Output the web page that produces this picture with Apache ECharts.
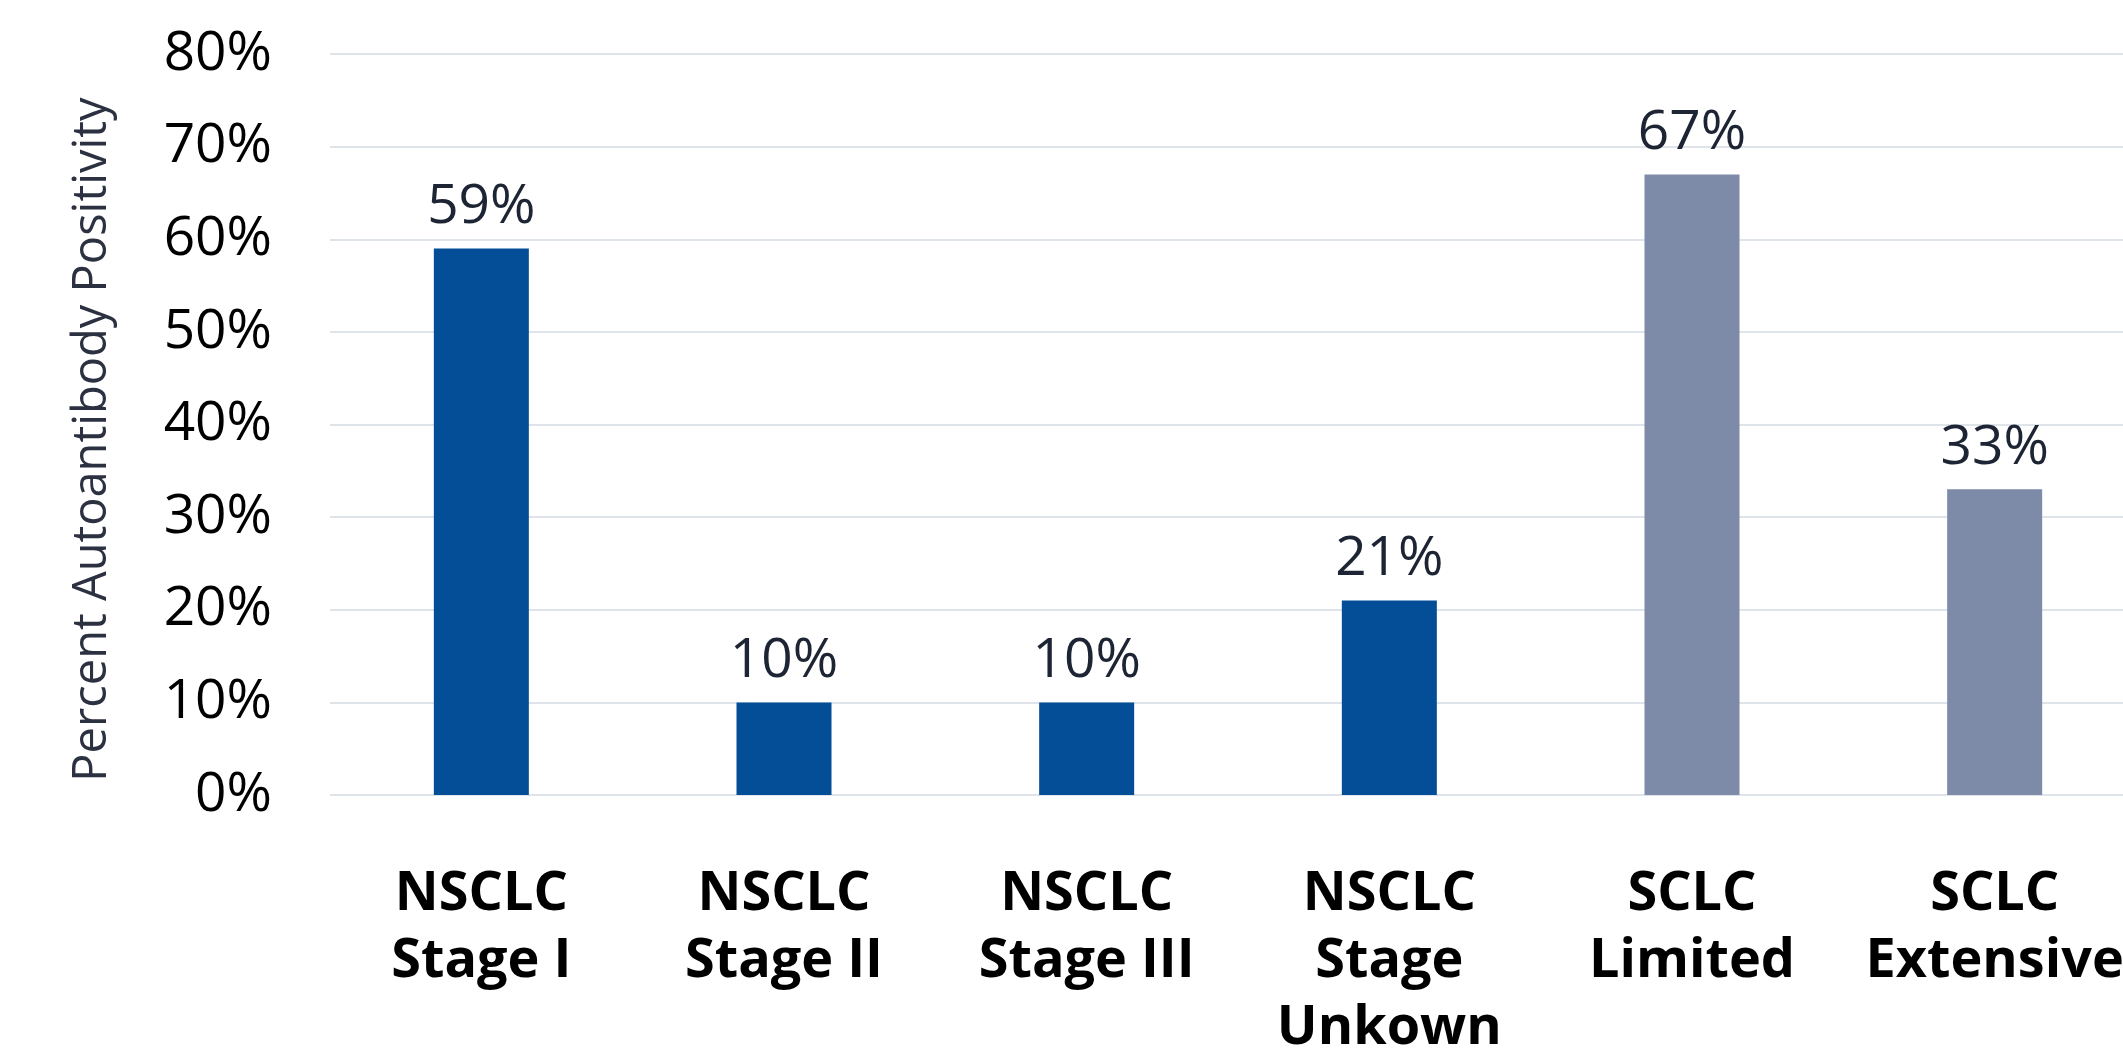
<!DOCTYPE html>
<html>
<head>
<meta charset="utf-8">
<script src="https://cdn.jsdelivr.net/npm/echarts@6/dist/echarts.min.js"></script>
<style>
  html, body { margin: 0; padding: 0; background: #fff; }
  #chart { width: 2123px; height: 1051px; }
</style>
</head>
<body>
<div id="chart"></div>
<script>
// categories (two-line labels) and values
var categories = ['NSCLC\nStage I', 'NSCLC\nStage II', 'NSCLC\nStage III', 'NSCLC\nStage\nUnkown', 'SCLC\nLimited', 'SCLC\nExtensive'];
var values = [59, 10, 10, 21, 67, 33];
var groups = ['NSCLC', 'NSCLC', 'NSCLC', 'NSCLC', 'SCLC', 'SCLC'];
var yTicks = [0, 10, 20, 30, 40, 50, 60, 70, 80];

var groupColor = { NSCLC: '#034e97', SCLC: '#7d8ba8' };

var barData = values.map(function (v, i) {
    return { value: v, itemStyle: { color: groupColor[groups[i]] } };
});

var myChart = echarts.init(document.getElementById('chart'));
var option = {
    animation: false,
    backgroundColor: '#fff',
    grid: {
        left: 330,
        top: 54,
        width: 1816,
        height: 741,
        outerBoundsMode: 'none'
    },
    xAxis: {
        type: 'category',
        data: categories,
        axisLine: { show: false },
        axisTick: { show: false },
        axisLabel: {
            margin: 66,
            fontFamily: 'Open Sans',
            fontWeight: 'bold',
            fontSize: 54,
            lineHeight: 67,
            color: '#000',
            interval: 0
        }
    },
    yAxis: {
        type: 'value',
        min: yTicks[0],
        max: yTicks[yTicks.length - 1],
        interval: 10,
        name: 'Percent Autoantibody Positivity',
        nameLocation: 'middle',
        nameRotate: 90,
        nameGap: 214,
        nameTextStyle: {
            fontFamily: 'Open Sans',
            fontSize: 47,
            color: '#2b3140',
            padding: [0, 30, 0, 0]
        },
        axisLine: { show: false },
        axisTick: { show: false },
        axisLabel: {
            margin: 58,
            fontFamily: 'Open Sans',
            fontSize: 55,
            color: '#000',
            formatter: '{value}%'
        },
        splitLine: {
            lineStyle: { color: '#dfe3ea', width: 2 }
        }
    },
    series: [
        {
            type: 'bar',
            data: barData,
            barWidth: 95,
            label: {
                show: true,
                position: 'top',
                distance: 14,
                fontFamily: 'Open Sans',
                fontSize: 55,
                color: '#1d2433',
                formatter: '{c}%'
            }
        }
    ]
};
myChart.setOption(option);
</script>
</body>
</html>
